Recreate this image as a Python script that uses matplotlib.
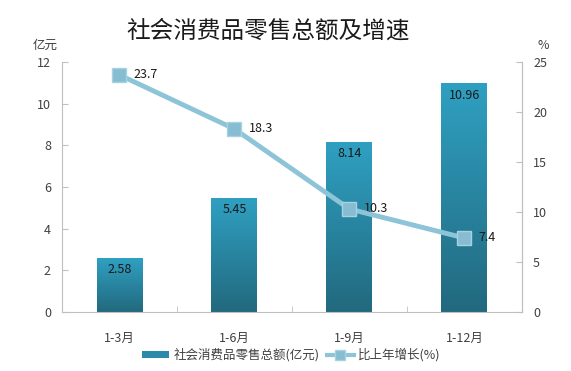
import numpy as np
import matplotlib.pyplot as plt
from matplotlib.colors import LinearSegmentedColormap
from matplotlib.lines import Line2D
from matplotlib.patches import Patch

plt.rcParams['font.family'] = ['Noto Sans CJK SC', 'DejaVu Sans']

categories = ['1-3月', '1-6月', '1-9月', '1-12月']
sales = [2.58, 5.45, 8.14, 10.96]
growth = [23.7, 18.3, 10.3, 7.4]

txt = '#404040'
axis_col = '#BFBFBF'

fig = plt.figure(figsize=(5.71, 3.71), dpi=100)
ax = fig.add_axes([0.1086, 0.159, 0.8054, 0.674])
x = np.arange(len(categories))
bw = 0.4

# gradient bars: lighter top, darker bottom
cmap = LinearSegmentedColormap.from_list('bar', ['#22697E', '#2FA0C2'])
grad = np.linspace(0, 1, 256).reshape(-1, 1)
for xi, v in zip(x, sales):
    ax.imshow(grad, cmap=cmap, aspect='auto', origin='lower',
              extent=(xi - bw / 2, xi + bw / 2, 0, v), zorder=2)
    ax.text(xi, v - 0.55, f'{v:.2f}', ha='center', va='center', fontsize=9, color='#1a1a1a', zorder=5)

ax.set_xlim(-0.5, 3.5)
ax.set_ylim(0, 12)
ax.set_yticks(range(0, 13, 2))
ax.set_xticks(x)
ax.set_xticklabels(categories, fontsize=9, color=txt)
ax.set_xticks(np.arange(-0.5, 3.6, 1), minor=True)
ax.tick_params(axis='x', which='major', length=0, pad=14)
ax.tick_params(axis='x', which='minor', direction='in', length=4, color=axis_col)
ax.tick_params(axis='y', direction='in', length=4, color=axis_col, labelsize=9, labelcolor=txt, pad=8)
ax.spines['top'].set_visible(False)
for s in ['left', 'right', 'bottom']:
    ax.spines[s].set_color(axis_col)

ax2 = ax.twinx()
ax2.set_ylim(0, 25)
ax2.set_yticks(range(0, 26, 5))
ax2.tick_params(axis='y', direction='in', length=4, color=axis_col, labelsize=9, labelcolor=txt, pad=8)
for s in ['top', 'left', 'bottom']:
    ax2.spines[s].set_visible(False)
ax2.spines['right'].set_color(axis_col)
ax2.plot(x, growth, color='#8EC4D7', lw=3.5, marker='s', markersize=9.5,
         markerfacecolor='#86BDD3', markeredgecolor='#A9D2E1', markeredgewidth=1, zorder=4)
for xi, g in zip(x, growth):
    ax2.text(xi + 0.125, g, f'{g}', ha='left', va='center', fontsize=9, color='#1a1a1a')

fig.text(0.47, 0.915, '社会消费品零售总额及增速', ha='center', va='center', fontsize=17, color='#1a1a1a')
fig.text(0.079, 0.878, '亿元', ha='center', va='center', fontsize=9, color=txt)
fig.text(0.951, 0.878, '%', ha='center', va='center', fontsize=9, color=txt)

handles = [Patch(facecolor='#2A8AA8', edgecolor='none'),
           Line2D([0], [0], color='#8EC4D7', lw=3, marker='s', markersize=7,
                  markerfacecolor='#86BDD3', markeredgecolor='#A9D2E1')]
fig.legend(handles, ['社会消费品零售总额(亿元)', '比上年增长(%)'], loc='center',
           bbox_to_anchor=(0.51, 0.043), ncol=2, frameon=False, fontsize=9,
           labelcolor=txt, handlelength=2.2, handleheight=0.5, columnspacing=0.6, handletextpad=0.3)

fig.savefig('out.png', dpi=100)
